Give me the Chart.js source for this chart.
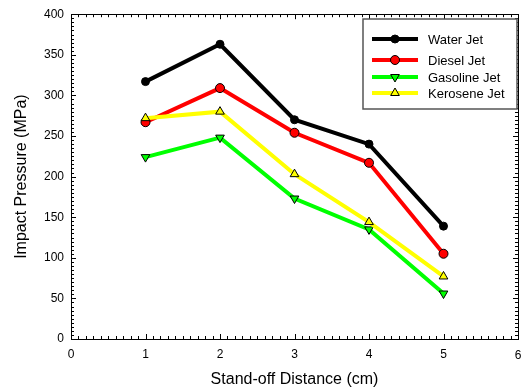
<!DOCTYPE html>
<html>
<head>
<meta charset="utf-8">
<script src="https://cdn.jsdelivr.net/npm/chart.js@4"></script>
<style>
html,body{margin:0;padding:0;background:#fff;}
#wrap{width:526px;height:389px;position:relative;}
</style>
</head>
<body>
<div id="wrap"><canvas id="c" width="526" height="389"></canvas></div>
<script>
const distances = [1, 2, 3, 4, 5];
const waterJet = [317, 363, 270, 240, 139];
const dieselJet = [267, 309, 254, 217, 105];
const gasolineJet = [224, 248, 173, 135, 56];
const keroseneJet = [272, 280, 203, 144, 77];
const seriesNames = ['Water Jet', 'Diesel Jet', 'Gasoline Jet', 'Kerosene Jet'];
const xTicks = [0, 1, 2, 3, 4, 5, 6];
const yTicks = [0, 50, 100, 150, 200, 250, 300, 350, 400];

const FONT = 'Liberation Sans, Arial, Helvetica, sans-serif';
const X_MAX = xTicks[xTicks.length-1];

function pts(vals){ return distances.map((x,i)=>({x:x,y:vals[i]})); }

const datasets = [
  {label: seriesNames[0], data: pts(waterJet), borderColor:'#000', backgroundColor:'#000',
   pointStyle:'circle', pointRadius:4, pointBorderColor:'#000', pointBorderWidth:1, borderWidth:4, order:4},
  {label: seriesNames[1], data: pts(dieselJet), borderColor:'#ff0000', backgroundColor:'#ff0000',
   pointStyle:'circle', pointRadius:4.5, pointBorderColor:'#000', pointBorderWidth:1, borderWidth:4, order:3},
  {label: seriesNames[2], data: pts(gasolineJet), borderColor:'#00ff00', backgroundColor:'#00ff00',
   pointStyle:'triangle', pointRotation:180, pointRadius:5, pointBorderColor:'#000', pointBorderWidth:1, borderWidth:4, order:2},
  {label: seriesNames[3], data: pts(keroseneJet), borderColor:'#ffff00', backgroundColor:'#ffff00',
   pointStyle:'triangle', pointRadius:5, pointBorderColor:'#000', pointBorderWidth:1, borderWidth:4, order:1}
];

const framePlugin = {
  id:'frame',
  afterDraw(chart){
    const ctx = chart.ctx, a = chart.chartArea;
    const xs = chart.scales.x, ys = chart.scales.y;
    ctx.save();
    ctx.strokeStyle = '#000';
    ctx.lineWidth = 1;
    ctx.strokeRect(Math.round(a.left)+0.5, Math.round(a.top)+0.5, Math.round(a.right-a.left), Math.round(a.bottom-a.top));
    ctx.beginPath();
    for(let i=0;i<=60;i++){
      const v = i/10;
      const px = Math.round(xs.getPixelForValue(v))+0.5;
      const len = (i%10===0)?5:3;
      ctx.moveTo(px, a.bottom); ctx.lineTo(px, a.bottom-len);
      ctx.moveTo(px, a.top); ctx.lineTo(px, a.top+len);
    }
    for(let i=0;i<=80;i++){
      const v = i*5;
      const py = Math.round(ys.getPixelForValue(v))+0.5;
      const len = (i%10===0)?5:3;
      ctx.moveTo(a.left, py); ctx.lineTo(a.left+len, py);
      ctx.moveTo(a.right, py); ctx.lineTo(a.right-len, py);
    }
    ctx.stroke();

    // last x tick label (drawn here so it does not shrink the plot area)
    ctx.fillStyle='#000';
    ctx.font = '12px ' + FONT;
    ctx.textAlign='center';
    ctx.textBaseline='top';
    ctx.fillText(String(X_MAX), xs.getPixelForValue(X_MAX), a.bottom + 11);

    // legend
    const bx=363, by=19, bw=154, bh=90;
    ctx.fillStyle='#fff';
    ctx.fillRect(bx,by,bw,bh);
    ctx.strokeStyle='#555';
    ctx.lineWidth=1.5;
    ctx.strokeRect(bx,by,bw,bh);
    const rowsY=[39,60,77,93];
    ctx.font = '13px ' + FONT;
    ctx.textBaseline='middle';
    ctx.textAlign='left';
    datasets.forEach((d,i)=>{
      const y=rowsY[i];
      ctx.strokeStyle=d.borderColor; ctx.lineWidth=4;
      ctx.beginPath(); ctx.moveTo(372,y); ctx.lineTo(418,y); ctx.stroke();
      ctx.fillStyle=d.backgroundColor;
      ctx.strokeStyle=d.pointBorderColor;
      ctx.lineWidth=1;
      Chart.helpers.drawPoint(ctx, {pointStyle:d.pointStyle, rotation:d.pointRotation||0, radius:d.pointRadius, borderWidth:1}, 395, y);
      ctx.fillStyle='#000';
      ctx.fillText(d.label, 428, y+1);
    });
    ctx.restore();
  }
};

new Chart(document.getElementById('c'), {
  type:'line',
  data:{datasets:datasets},
  plugins:[framePlugin],
  options:{
    responsive:false,
    animation:false,
    devicePixelRatio:1,
    layout:{padding:{top:14, right:0, left:0, bottom:0}},
    plugins:{legend:{display:false}, tooltip:{enabled:false}},
    elements:{line:{tension:0}},
    scales:{
      x:{
        type:'linear', min:0, max:X_MAX,
        afterBuildTicks(s){ s.ticks = xTicks.map(v=>({value:v})); },
        afterFit(s){ s.height = 50; },
        grid:{display:false, drawTicks:false},
        border:{display:false},
        ticks:{color:'#000', font:{family:FONT, size:12}, padding:8, maxRotation:0, autoSkip:false,
               callback:(v)=> v===X_MAX ? '' : String(v)},
        title:{display:true, text:'Stand-off Distance (cm)', color:'#000', font:{family:FONT, size:16}, padding:{top:6,bottom:0}}
      },
      y:{
        type:'linear', min:0, max:400,
        afterBuildTicks(s){ s.ticks = yTicks.map(v=>({value:v})); },
        afterFit(s){ s.width = 71; },
        grid:{display:false, drawTicks:false},
        border:{display:false},
        ticks:{color:'#000', font:{family:FONT, size:12}, padding:7, autoSkip:false},
        title:{display:true, text:'Impact Pressure (MPa)', color:'#000', font:{family:FONT, size:16}, padding:{top:12,bottom:0}}
      }
    }
  }
});
</script>
</body>
</html>
